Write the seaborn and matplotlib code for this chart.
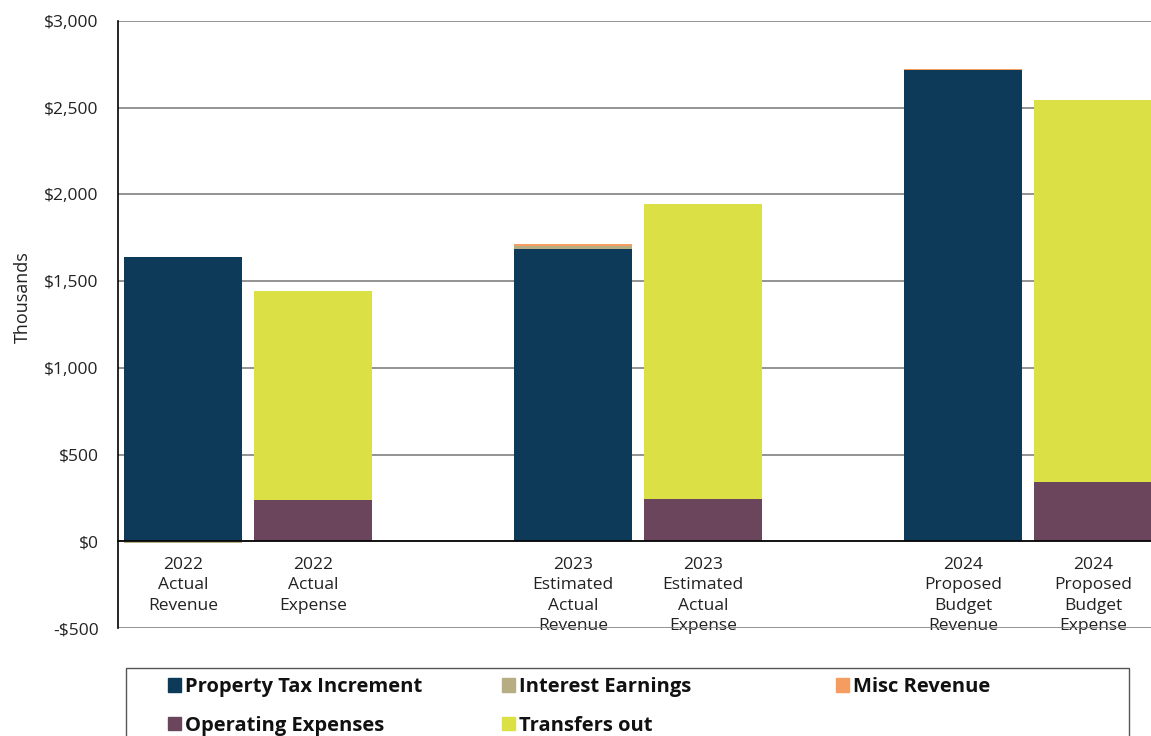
import matplotlib
matplotlib.use("Agg")
import matplotlib.pyplot as plt
import matplotlib.patches as mpatches
from matplotlib.ticker import FixedLocator, FuncFormatter
import seaborn as sns
import pandas as pd
import numpy as np

# ---- data (thousands of $) ----
categories = ["2022\nActual\nRevenue", "2022\nActual\nExpense", " ",
              "2023\nEstimated\nActual\nRevenue", "2023\nEstimated\nActual\nExpense", "  ",
              "2024\nProposed\nBudget\nRevenue", "2024\nProposed\nBudget\nExpense"]
property_tax = [1638, 0, 0, 1683, 0, 0, 2717, 0]
interest_earnings = [-8, 0, 0, 22, 0, 0, 0, 0]
misc_revenue = [4, 0, 0, 10, 0, 0, 5, 0]
operating_expenses = [0, 237, 0, 0, 242, 0, 0, 340]
transfers_out = [0, 1205, 0, 0, 1702, 0, 0, 2204]

series_names = ["Property Tax Increment", "Interest Earnings", "Misc Revenue",
                "Operating Expenses", "Transfers out"]
colors = {"Property Tax Increment": "#0E3A5A",
          "Interest Earnings": "#B6AD83",
          "Misc Revenue": "#F59C60",
          "Operating Expenses": "#6A455C",
          "Transfers out": "#DBE045"}

sns.set_theme(style="white")
plt.rcParams["font.family"] = ["Open Sans", "DejaVu Sans"]

fig = plt.figure(figsize=(11.51, 7.36), dpi=100)
ax = fig.add_axes([118/1151, (736-628)/736, 1040/1151, (628-21)/736])

series_vals = [property_tax, interest_earnings, misc_revenue, operating_expenses, transfers_out]
pos_base = np.zeros(len(categories))
neg_base = np.zeros(len(categories))
for name, vals in zip(series_names, series_vals):
    vals = np.array(vals, dtype=float)
    bottoms = np.where(vals >= 0, pos_base, neg_base)
    df = pd.DataFrame({"cat": categories, "val": vals})
    sns.barplot(data=df, x="cat", y="val", order=categories, color=colors[name],
                bottom=bottoms, width=0.91, errorbar=None, saturation=1,
                linewidth=0, ax=ax, zorder=3)
    pos_base = pos_base + np.where(vals > 0, vals, 0)
    neg_base = neg_base + np.where(vals < 0, vals, 0)

ax.set_xlim(-0.5, len(categories) - 0.5)
ax.set_ylim(-500, 3000)
ax.yaxis.set_major_locator(FixedLocator(np.arange(-500, 3001, 500)))
ax.yaxis.set_major_formatter(FuncFormatter(lambda v, p: f"${v:,.0f}" if v >= 0 else f"-${-v:,.0f}"))
ax.grid(axis="y", color="#808080", linewidth=1.2, zorder=0)
ax.grid(axis="x", visible=False)

for s in ["top", "right"]:
    ax.spines[s].set_visible(False)
ax.spines["left"].set_color("black")
ax.spines["left"].set_linewidth(1.2)
ax.spines["bottom"].set_position(("data", 0))
ax.spines["bottom"].set_color("black")
ax.spines["bottom"].set_linewidth(1.2)
ax.spines["bottom"].set_zorder(4)

ax.set_xticks(range(len(categories)))
ax.set_xticklabels(categories, fontsize=12.5, color="#222222", linespacing=1.38)
ax.set_xticks(np.arange(-0.5, len(categories), 1), minor=True)
ax.tick_params(axis="x", which="major", length=0, pad=11)
ax.tick_params(axis="x", which="minor", direction="in", length=6, width=1, color="black")
for lab in ax.get_xticklabels():
    lab.set_verticalalignment("top")
ax.tick_params(axis="y", length=0, labelsize=12.5, labelcolor="#222222", pad=14)

ax.set_xlabel("")
ax.set_ylabel("Thousands", fontsize=13, color="#222222")
ax.yaxis.set_label_coords(-0.083, 0.545)

# legend frame
frame = mpatches.Rectangle((126/1151, -0.05), 1003/1151, 0.05 + 1 - 668/736,
                           transform=fig.transFigure, fill=False,
                           edgecolor="#555555", linewidth=1.0)
fig.add_artist(frame)

legend_cols = [(["Property Tax Increment", "Operating Expenses"], 168),
               (["Interest Earnings", "Transfers out"], 502),
               (["Misc Revenue"], 836)]
for names, xpx in legend_cols:
    hs = [mpatches.Patch(color=colors[n], label=n) for n in names]
    lg = fig.legend(handles=hs, loc="upper left", ncol=1,
                    bbox_to_anchor=(xpx/1151, 1 - 677/736),
                    prop={"family": "Open Sans", "weight": "bold", "size": 14.5},
                    handlelength=0.65, handleheight=0.65, handletextpad=0.2,
                    frameon=False, borderpad=0, labelspacing=0.92, borderaxespad=0)
    for t in lg.get_texts():
        t.set_color("#111111")

fig.savefig("out.png", dpi=100)
